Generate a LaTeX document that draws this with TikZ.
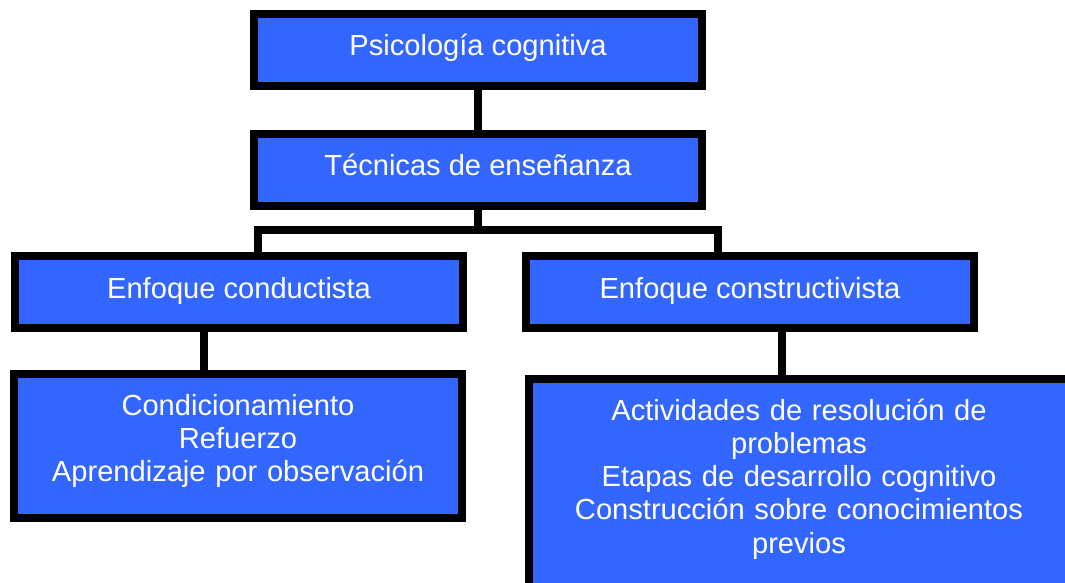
\documentclass[tikz,border=0pt]{standalone}
\usepackage{fontspec}
\setmainfont{Liberation Sans}
\definecolor{boxblue}{HTML}{3366FF}
\begin{document}
\begin{tikzpicture}[x=1pt,y=-1pt,
  box/.style={draw=black, fill=boxblue, line width=8pt, rectangle, inner sep=0pt, outer sep=0pt},
  txt/.style={text=white, font=\fontsize{29.1}{33.4}\selectfont, inner sep=0pt, anchor=base},
  conn/.style={draw=black, line width=8pt, line join=miter, line cap=butt}]
\path[use as bounding box] (0,0) rectangle (1065,582);
\clip (0,0) rectangle (1065,582);
% boxes
\node[box, minimum width=448pt, minimum height=72pt] (b1) at (478,50) {};
\node[box, minimum width=448pt, minimum height=72pt] (b2) at (478,170) {};
\node[box, minimum width=448pt, minimum height=72pt] (b3) at (239,292) {};
\node[box, minimum width=448pt, minimum height=144pt] (b4) at (238,446) {};
\node[box, minimum width=448pt, minimum height=72pt] (b5) at (750,292) {};
\node[box, minimum width=561pt, minimum height=241pt] (b6) at (809.5,499.5) {};
% connectors
\coordinate (jl) at (258,229.6);
\coordinate (jr) at (718,229.6);
\coordinate (d3) at (204,0);
\coordinate (d5) at (782,0);
\draw[conn] (b1.south) -- (b2.north);
\draw[conn] (b2.south) -- (b2.south |- jl);
\draw[conn] (jl |- b3.north) -- (jl) -- (jr) -- (jr |- b5.north);
\draw[conn] (d3 |- b3.south) -- (d3 |- b4.north);
\draw[conn] (d5 |- b5.south) -- (d5 |- b6.north);
% texts
\node[txt] (t1) at (478,55) {Psicología cognitiva};
\node[txt] (t2) at (478,175) {Técnicas de enseñanza};
\node[txt] (t3) at (239,298) {Enfoque conductista};
\node[txt] (t5) at (750,298) {Enfoque constructivista};
\node[txt, text width=440pt, align=center] (t4) at (238,415)
  {Condicionamiento\\Refuerzo\\Aprendizaje por observación};
\node[txt, text width=520pt, align=center, font=\fontsize{29.1}{33.25}\selectfont] (t6) at (799,420)
  {Actividades de resolución de\\problemas\\Etapas de desarrollo cognitivo\\Construcción sobre conocimientos\\previos};
\end{tikzpicture}
\end{document}
